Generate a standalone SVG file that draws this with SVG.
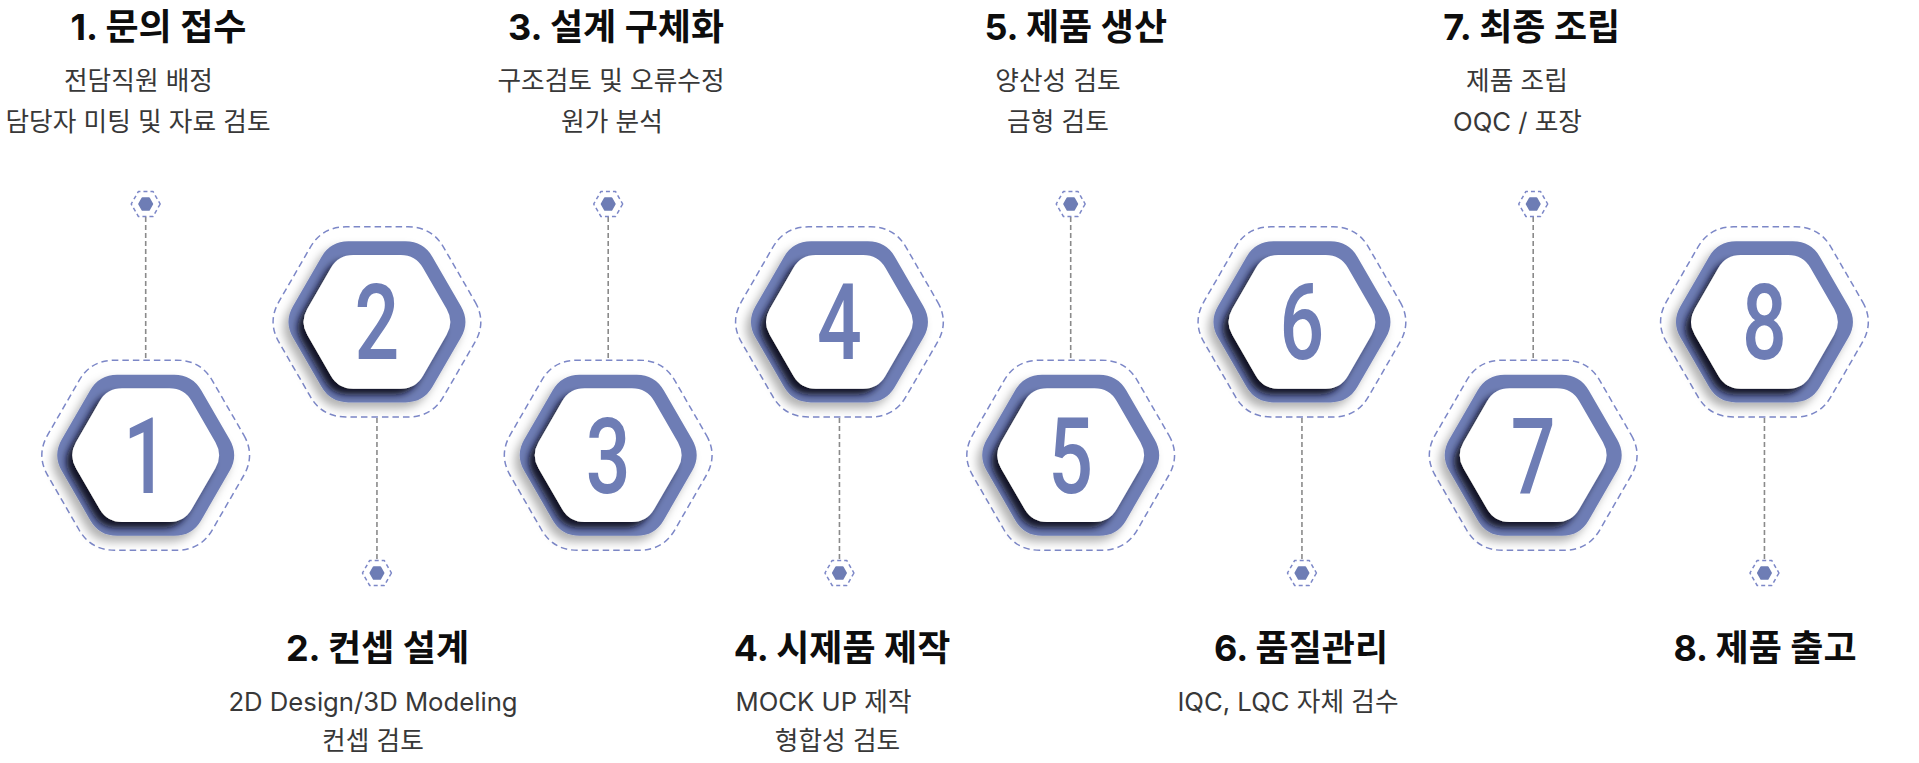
<svg xmlns="http://www.w3.org/2000/svg" xmlns:xlink="http://www.w3.org/1999/xlink" width="1919" height="763" viewBox="0 0 1919 763">
<style>
.h{font-family:"Inter","Noto Sans CJK KR",sans-serif;font-weight:700;font-size:36px;fill:#0d0d0d;text-anchor:middle}
.s{font-family:"Inter","Noto Sans CJK KR",sans-serif;font-weight:400;font-size:25.7px;fill:#383838;text-anchor:middle}
.num{font-family:"Roboto","Liberation Sans",sans-serif;font-weight:500;font-size:105px;fill:#6e7db5;text-anchor:middle}
.ring{fill:#6e7db5}
.inner{fill:#fff}
.dash{fill:none;stroke:#7c87c7;stroke-width:1.5;stroke-dasharray:6.5 4}
.dot{fill:#6e7db5;stroke:#6e7db5;stroke-width:2;stroke-linejoin:round}
.dotring{fill:none;stroke:#7c87c7;stroke-width:1.5;stroke-dasharray:4 3;stroke-linejoin:round}
.line{stroke:#8a8a8a;stroke-width:1.6;stroke-dasharray:5 3;fill:none}
</style>
<defs>
<path id="hexO" d="M84,-15.59 Q93,0 84,15.59 L55.5,64.95 Q46.5,80.54 28.5,80.54 L-28.5,80.54 Q-46.5,80.54 -55.5,64.95 L-84,15.59 Q-93,0 -84,-15.59 L-55.5,-64.95 Q-46.5,-80.54 -28.5,-80.54 L28.5,-80.54 Q46.5,-80.54 55.5,-64.95 Z"/>
<path id="hexI" d="M69.72,-12.94 Q77.19,0 69.72,12.94 L46.07,53.91 Q38.6,66.85 23.66,66.85 L-23.66,66.85 Q-38.6,66.85 -46.07,53.91 L-69.72,12.94 Q-77.19,0 -69.72,-12.94 L-46.07,-53.91 Q-38.6,-66.85 -23.66,-66.85 L23.66,-66.85 Q38.6,-66.85 46.07,-53.91 Z"/>
<path id="hexD" d="M98,-20.3 Q109.74,0 98,20.3 L67.1,73.8 Q55.4,95.04 31,95.04 L-31,95.04 Q-55.4,95.04 -67.1,73.8 L-98,20.3 Q-109.74,0 -98,-20.3 L-67.1,-73.8 Q-55.4,-95.04 -31,-95.04 L31,-95.04 Q55.4,-95.04 67.1,-73.8 Z"/>
<polygon id="dotF" points="6.5,0 3.25,5.63 -3.25,5.63 -6.5,0 -3.25,-5.63 3.25,-5.63"/>
<polygon id="dotR" points="14.5,0 7.25,12.56 -7.25,12.56 -14.5,0 -7.25,-12.56 7.25,-12.56"/>
<clipPath id="clipO"><use xlink:href="#hexO"/></clipPath>
<filter id="outerSh" x="-30%" y="-30%" width="160%" height="160%">
<feDropShadow dx="-5" dy="6" stdDeviation="5" flood-color="#000" flood-opacity="0.3"/>
</filter>
<filter id="innerSh" x="-30%" y="-30%" width="160%" height="160%">
<feDropShadow dx="-6" dy="6" stdDeviation="3.5" flood-color="#0b0b1f" flood-opacity="0.95"/>
</filter>
<g id="hexNode">
<use xlink:href="#hexD" class="dash"/>
<use xlink:href="#hexO" class="ring" filter="url(#outerSh)"/>
<g clip-path="url(#clipO)"><use xlink:href="#hexI" class="inner" filter="url(#innerSh)"/></g>
</g>
</defs>

<g id="connectors">
<line class="line" x1="145.7" y1="217" x2="145.7" y2="360"/>
<line class="line" x1="376.95" y1="418" x2="376.95" y2="560"/>
<line class="line" x1="608.2" y1="217" x2="608.2" y2="360"/>
<line class="line" x1="839.45" y1="418" x2="839.45" y2="560"/>
<line class="line" x1="1070.7" y1="217" x2="1070.7" y2="360"/>
<line class="line" x1="1301.95" y1="418" x2="1301.95" y2="560"/>
<line class="line" x1="1533.2" y1="217" x2="1533.2" y2="360"/>
<line class="line" x1="1764.45" y1="418" x2="1764.45" y2="560"/>
<g transform="translate(145.7,204)"><use xlink:href="#dotR" class="dotring"/><use xlink:href="#dotF" class="dot"/></g>
<g transform="translate(376.95,573)"><use xlink:href="#dotR" class="dotring"/><use xlink:href="#dotF" class="dot"/></g>
<g transform="translate(608.2,204)"><use xlink:href="#dotR" class="dotring"/><use xlink:href="#dotF" class="dot"/></g>
<g transform="translate(839.45,573)"><use xlink:href="#dotR" class="dotring"/><use xlink:href="#dotF" class="dot"/></g>
<g transform="translate(1070.7,204)"><use xlink:href="#dotR" class="dotring"/><use xlink:href="#dotF" class="dot"/></g>
<g transform="translate(1301.95,573)"><use xlink:href="#dotR" class="dotring"/><use xlink:href="#dotF" class="dot"/></g>
<g transform="translate(1533.2,204)"><use xlink:href="#dotR" class="dotring"/><use xlink:href="#dotF" class="dot"/></g>
<g transform="translate(1764.45,573)"><use xlink:href="#dotR" class="dotring"/><use xlink:href="#dotF" class="dot"/></g>
</g>

<g id="node1">
<g transform="translate(145.7,455.2)"><use xlink:href="#hexNode"/><text class="num" transform="translate(0,37.5) scale(0.75,1)">1</text></g>
<text class="h" x="158.5" y="40">1. 문의 접수</text>
<text class="s" x="138.5" y="90">전담직원 배정</text>
<text class="s" x="138" y="131">담당자 미팅 및 자료 검토</text>
</g>
<g id="node2">
<g transform="translate(376.95,321.9)"><use xlink:href="#hexNode"/><text class="num" transform="translate(0,37.5) scale(0.75,1)">2</text></g>
<text class="h" x="377.5" y="661">2. 컨셉 설계</text>
<text class="s" x="373" y="711">2D Design/3D Modeling</text>
<text class="s" x="373" y="750">컨셉 검토</text>
</g>
<g id="node3">
<g transform="translate(608.2,455.2)"><use xlink:href="#hexNode"/><text class="num" transform="translate(0,37.5) scale(0.75,1)">3</text></g>
<text class="h" x="616" y="40">3. 설계 구체화</text>
<text class="s" x="611" y="90">구조검토 및 오류수정</text>
<text class="s" x="612" y="131">원가 분석</text>
</g>
<g id="node4">
<g transform="translate(839.45,321.9)"><use xlink:href="#hexNode"/><text class="num" transform="translate(0,37.5) scale(0.75,1)">4</text></g>
<text class="h" x="842" y="661">4. 시제품 제작</text>
<text class="s" x="823.5" y="711">MOCK UP 제작</text>
<text class="s" x="837.5" y="750">형합성 검토</text>
</g>
<g id="node5">
<g transform="translate(1070.7,455.2)"><use xlink:href="#hexNode"/><text class="num" transform="translate(0,37.5) scale(0.75,1)">5</text></g>
<text class="h" x="1075.7" y="40">5. 제품 생산</text>
<text class="s" x="1058" y="90">양산성 검토</text>
<text class="s" x="1058" y="131">금형 검토</text>
</g>
<g id="node6">
<g transform="translate(1301.95,321.9)"><use xlink:href="#hexNode"/><text class="num" transform="translate(0,37.5) scale(0.75,1)">6</text></g>
<text class="h" x="1301" y="661">6. 품질관리</text>
<text class="s" x="1288" y="711">IQC, LQC 자체 검수</text>
</g>
<g id="node7">
<g transform="translate(1533.2,455.2)"><use xlink:href="#hexNode"/><text class="num" transform="translate(0,37.5) scale(0.75,1)">7</text></g>
<text class="h" x="1531.7" y="40">7. 최종 조립</text>
<text class="s" x="1517" y="90">제품 조립</text>
<text class="s" x="1517.5" y="131">OQC / 포장</text>
</g>
<g id="node8">
<g transform="translate(1764.45,321.9)"><use xlink:href="#hexNode"/><text class="num" transform="translate(0,37.5) scale(0.75,1)">8</text></g>
<text class="h" x="1765" y="661">8. 제품 출고</text>
</g>
</svg>
